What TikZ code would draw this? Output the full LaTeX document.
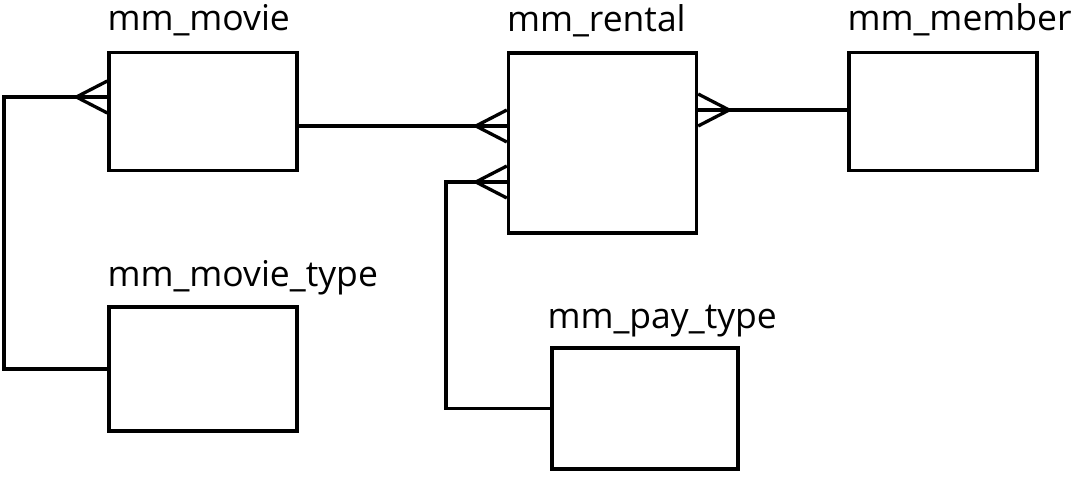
\documentclass[tikz,border=0pt]{standalone}
\usepackage{fontspec}
\setmainfont{Open Sans}
\usetikzlibrary{calc}
\tikzset{
  entity/.style={draw,rectangle,line width=3.3pt,minimum width=188pt,minimum height=118pt,inner sep=0pt},
  lbl/.style={anchor=base west,inner sep=0pt,font=\fontsize{35.5}{42}\selectfont},
  link/.style={line width=3.3pt},
  crow/.pic={\draw[link,line join=miter] (0,-16) -- (-31,0) -- (0,16);}
}

\begin{document}
\begin{tikzpicture}[x=1pt,y=-1pt]
  \useasboundingbox (0,0) rectangle (1072,477);
  \node[entity] (movie) at (203,111.5) {};
  \node[entity,minimum height=180pt] (rental) at (602.5,143) {};
  \node[entity] (member) at (943,111.5) {};
  \node[entity,minimum height=124pt] (movietype) at (203,369) {};
  \node[entity,minimum width=186pt,minimum height=121pt] (paytype) at (645,408.5) {};

  \node[lbl] (movie-lbl) at ([yshift=20pt]movie.north west) {mm\_movie};
  \node[lbl] (rental-lbl) at ([yshift=20pt]rental.north west) {mm\_rental};
  \node[lbl] (member-lbl) at ([yshift=20pt]member.north west) {mm\_member};
  \node[lbl] (movietype-lbl) at ([yshift=19pt]movietype.north west) {mm\_movie\_type};
  \node[lbl] (paytype-lbl) at ([yshift=18pt,xshift=-3pt]paytype.north west) {mm\_pay\_type};

  \coordinate (c1) at ([yshift=14.5pt]movie.west);
  \coordinate (c2) at ([yshift=-14.5pt]movie.east);
  \coordinate (c3) at ([yshift=-39pt]rental.west);
  \coordinate (c4) at ([yshift=33pt]rental.east);

  \draw[link] (movietype.west) -| (4,0 |- c1) -- (c1);
  \draw[link] (c2) -- (rental.west |- c2);
  \draw[link] (paytype.west) -| (446,0 |- c3) -- (c3);
  \draw[link] (c4) -- (member.west |- c4);

  \pic at (c1) {crow};
  \pic at (rental.west |- c2) {crow};
  \pic at (c3) {crow};
  \pic[xscale=-1] at (c4) {crow};
\end{tikzpicture}
\end{document}
